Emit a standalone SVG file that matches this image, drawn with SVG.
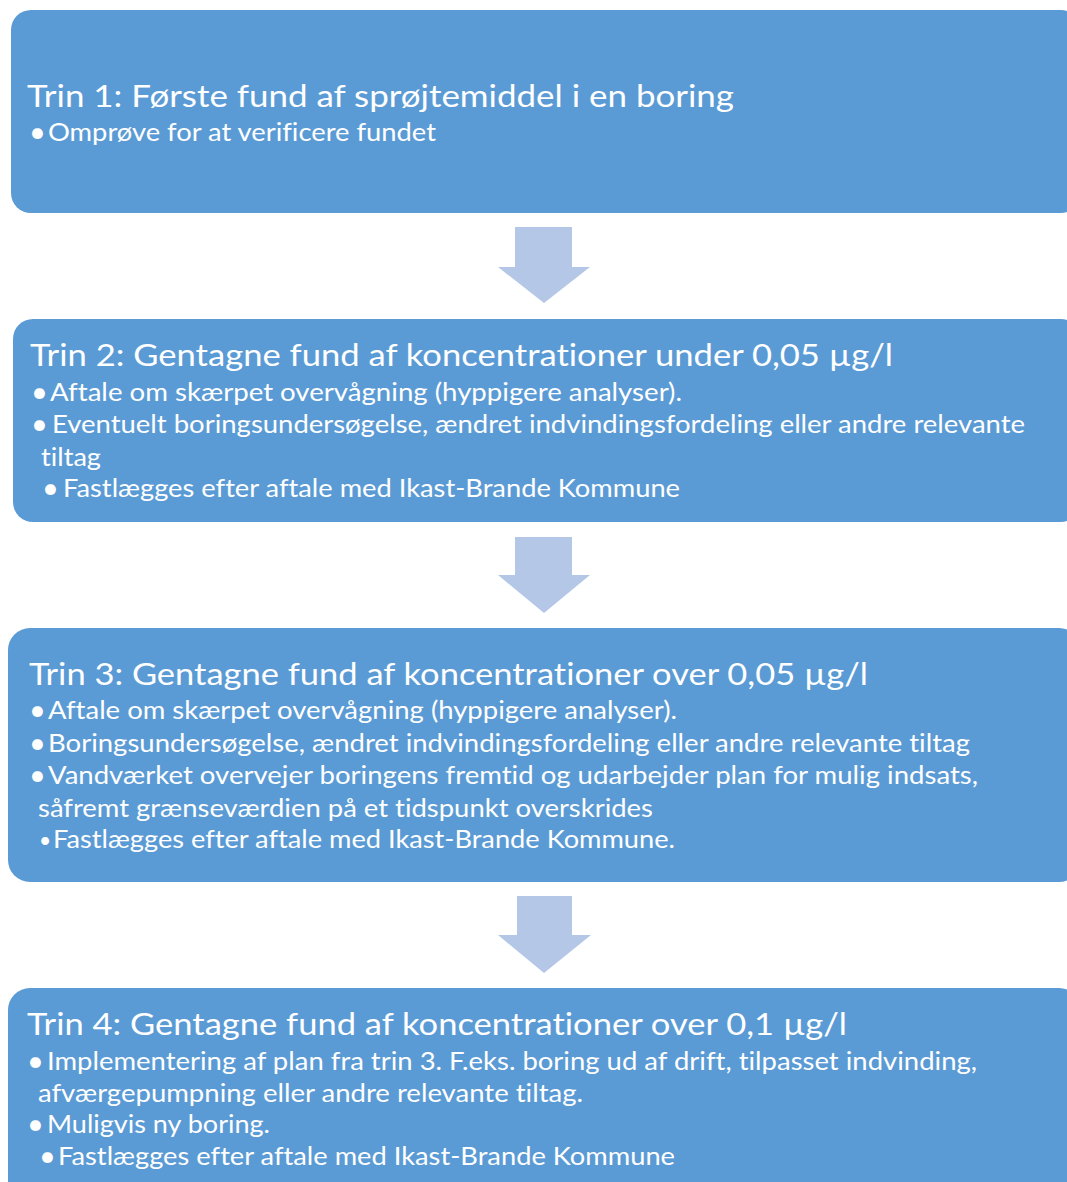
<svg xmlns="http://www.w3.org/2000/svg" width="1067" height="1182" viewBox="0 0 1067 1182">
<style>
.box{fill:#5B9BD5;}
.arr{fill:#B4C7E7;}
text{fill:#FFFFFF;font-family:Lato,"Open Sans","Liberation Sans",sans-serif;font-variant-ligatures:none;}
.t{font-size:30px;}
.b{font-size:25px;}
.bl{font-size:29px;}
.sb{font-size:21px;}
</style>
<rect width="1067" height="1182" fill="#FFFFFF"/>
<g id="connectors">
<path class="arr" d="M515,227 H572 V267 H590 L544,303 L498,267 H515 Z"/>
<path class="arr" d="M515,537 H572 V575 H590 L544,613 L498,575 H515 Z"/>
<path class="arr" d="M517,896 H572 V935 H591 L544,973 L498,935 H517 Z"/>
</g>
<g id="trin1">
<rect class="box" x="11" y="10" width="1070" height="203" rx="20"/>
<text class="t" x="27" y="107" textLength="707" lengthAdjust="spacingAndGlyphs">Trin 1: Første fund af sprøjtemiddel i en boring</text>
<text class="bl" x="29" y="142">•</text>
<text class="b" x="48" y="141" textLength="388" lengthAdjust="spacingAndGlyphs">Omprøve for at verificere fundet</text>
</g>
<g id="trin2">
<rect class="box" x="13" y="319" width="1068" height="203" rx="20"/>
<text class="t" x="30" y="366" textLength="863" lengthAdjust="spacingAndGlyphs">Trin 2: Gentagne fund af koncentrationer under 0,05 µg/l</text>
<text class="bl" x="31" y="402">•</text>
<text class="b" x="50" y="401" textLength="632" lengthAdjust="spacingAndGlyphs">Aftale om skærpet overvågning (hyppigere analyser).</text>
<text class="bl" x="31" y="434">•</text>
<text class="b" x="52" y="433" textLength="973" lengthAdjust="spacingAndGlyphs">Eventuelt boringsundersøgelse, ændret indvindingsfordeling eller andre relevante</text>
<text class="b" x="41" y="466" textLength="60" lengthAdjust="spacingAndGlyphs">tiltag</text>
<text class="bl" x="42" y="498">•</text>
<text class="b" x="63" y="497" textLength="617" lengthAdjust="spacingAndGlyphs">Fastlægges efter aftale med Ikast-Brande Kommune</text>
</g>
<g id="trin3">
<rect class="box" x="8" y="628" width="1073" height="254" rx="22"/>
<text class="t" x="29" y="685" textLength="839" lengthAdjust="spacingAndGlyphs">Trin 3: Gentagne fund af koncentrationer over 0,05 µg/l</text>
<text class="bl" x="29" y="720">•</text>
<text class="b" x="48" y="719" textLength="629" lengthAdjust="spacingAndGlyphs">Aftale om skærpet overvågning (hyppigere analyser).</text>
<text class="bl" x="29" y="753">•</text>
<text class="b" x="48" y="752" textLength="922" lengthAdjust="spacingAndGlyphs">Boringsundersøgelse, ændret indvindingsfordeling eller andre relevante tiltag</text>
<text class="bl" x="29" y="785">•</text>
<text class="b" x="48" y="784" textLength="930" lengthAdjust="spacingAndGlyphs">Vandværket overvejer boringens fremtid og udarbejder plan for mulig indsats,</text>
<text class="b" x="38" y="817" textLength="615" lengthAdjust="spacingAndGlyphs">såfremt grænseværdien på et tidspunkt overskrides</text>
<text class="sb" x="39" y="848">•</text>
<text class="b" x="53" y="848" textLength="622" lengthAdjust="spacingAndGlyphs">Fastlægges efter aftale med Ikast-Brande Kommune.</text>
</g>
<g id="trin4">
<rect class="box" x="8" y="988" width="1073" height="230" rx="22"/>
<text class="t" x="27" y="1035" textLength="820" lengthAdjust="spacingAndGlyphs">Trin 4: Gentagne fund af koncentrationer over 0,1 µg/l</text>
<text class="bl" x="27" y="1071">•</text>
<text class="b" x="47" y="1070" textLength="930" lengthAdjust="spacingAndGlyphs">Implementering af plan fra trin 3. F.eks. boring ud af drift, tilpasset indvinding,</text>
<text class="b" x="38" y="1102" textLength="545" lengthAdjust="spacingAndGlyphs">afværgepumpning eller andre relevante tiltag.</text>
<text class="bl" x="27" y="1134">•</text>
<text class="b" x="47" y="1133" textLength="223" lengthAdjust="spacingAndGlyphs">Muligvis ny boring.</text>
<text class="bl" x="39" y="1166">•</text>
<text class="b" x="58" y="1165" textLength="617" lengthAdjust="spacingAndGlyphs">Fastlægges efter aftale med Ikast-Brande Kommune</text>
</g>
</svg>
